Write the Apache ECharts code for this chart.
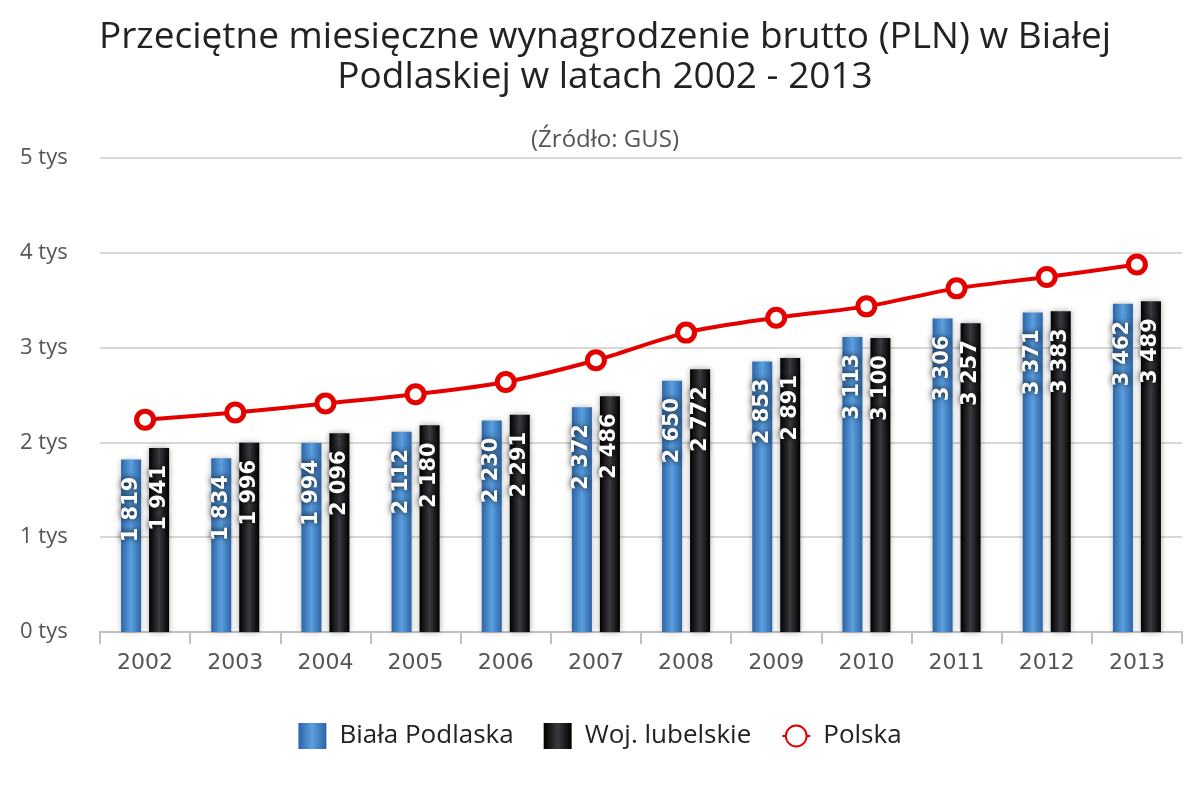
<!DOCTYPE html>
<html>
<head>
<meta charset="utf-8">
<script src="https://cdn.jsdelivr.net/npm/echarts@6/dist/echarts.min.js"></script>
<style>
html,body{margin:0;padding:0;background:#fff;}
#myChart{width:1200px;height:800px;}
</style>
</head>
<body>
<div id="myChart"></div>
<script>
var years = ['2002', '2003', '2004', '2005', '2006', '2007', '2008', '2009', '2010', '2011', '2012', '2013'];
var bialaPodlaska = [1819, 1834, 1994, 2112, 2230, 2372, 2650, 2853, 3113, 3306, 3371, 3462];
var lubelskie = [1941, 1996, 2096, 2180, 2291, 2486, 2772, 2891, 3100, 3257, 3383, 3489];
var polska = [2240, 2315, 2410, 2508, 2637, 2866, 3158, 3315, 3435, 3625, 3744, 3877];

var myChart = echarts.init(document.getElementById('myChart'));

function fmt(v) {
    var s = String(v);
    return s.length > 3 ? s.slice(0, s.length - 3) + ' ' + s.slice(-3) : s;
}

var barLabel = {
    show: true,
    position: 'insideTop',
    rotate: 90,
    align: 'right',
    verticalAlign: 'middle',
    distance: 17,
    color: '#fff',
    fontFamily: 'DejaVu Sans',
    fontWeight: 'bold',
    fontSize: 21,
    textShadowColor: 'rgba(0,0,0,0.9)',
    textShadowBlur: 6,
    formatter: function (p) { return fmt(p.value); }
};

var option = {
    backgroundColor: '#fff',
    title: [{
        text: 'Przeciętne miesięczne wynagrodzenie brutto (PLN) w Białej\nPodlaskiej w latach 2002 - 2013',
        left: 600,
        top: 12,
        textAlign: 'center',
        textStyle: {
            fontFamily: 'Open Sans',
            fontWeight: 'normal',
            fontSize: 37,
            lineHeight: 40,
            color: '#222'
        }
    }, {
        text: '(Źródło: GUS)',
        left: 600,
        top: 123,
        textAlign: 'center',
        textStyle: {
            fontFamily: 'Open Sans',
            fontWeight: 'normal',
            fontSize: 24,
            color: '#555'
        }
    }],
    legend: {
        bottom: 46,
        left: 'center',
        itemWidth: 28,
        itemHeight: 26,
        itemGap: 30,
        textStyle: {
            fontFamily: 'Open Sans',
            fontSize: 26,
            color: '#222',
            padding: [0, 0, 0, 8]
        },
        data: [
            {name: 'Biała Podlaska', icon: 'rect'},
            {name: 'Woj. lubelskie', icon: 'rect'},
            {name: 'Polska'}
        ]
    },
    grid: {
        left: 100,
        right: 18,
        top: 158,
        bottom: 168
    },
    xAxis: {
        type: 'category',
        data: years,
        axisLine: {lineStyle: {color: '#c0c0c0', width: 2}},
        axisTick: {show: true, length: 12, lineStyle: {color: '#c0c0c0', width: 2}},
        axisLabel: {
            fontFamily: 'DejaVu Sans',
            fontSize: 22,
            color: '#555',
            margin: 20
        }
    },
    yAxis: {
        type: 'value',
        min: 0,
        max: 5000,
        interval: 1000,
        axisLine: {show: false},
        axisTick: {show: false},
        splitLine: {lineStyle: {color: '#d8d8d8', width: 2}},
        axisLabel: {
            align: 'left',
            margin: 80,
            fontFamily: 'Open Sans',
            fontSize: 22,
            color: '#555',
            formatter: function (v) { return v / 1000 + ' tys'; }
        }
    },
    series: [
        {
            name: 'Biała Podlaska',
            type: 'bar',
            barWidth: 20,
            barGap: '40%',
            data: bialaPodlaska,
            itemStyle: {
                color: new echarts.graphic.LinearGradient(0, 0, 1, 0, [
                    {offset: 0, color: '#2d65a3'},
                    {offset: 0.5, color: '#5b9fe0'},
                    {offset: 1, color: '#2d65a3'}
                ]),
                shadowColor: 'rgba(0,0,0,0.25)',
                shadowBlur: 6
            },
            label: barLabel
        },
        {
            name: 'Woj. lubelskie',
            type: 'bar',
            barWidth: 20,
            data: lubelskie,
            itemStyle: {
                color: new echarts.graphic.LinearGradient(0, 0, 1, 0, [
                    {offset: 0, color: '#000'},
                    {offset: 0.5, color: '#3a3a40'},
                    {offset: 1, color: '#000'}
                ]),
                shadowColor: 'rgba(0,0,0,0.35)',
                shadowBlur: 6
            },
            label: barLabel
        },
        {
            name: 'Polska',
            type: 'line',
            smooth: 0.3,
            data: polska,
            symbol: 'circle',
            symbolSize: 17,
            color: '#e50000',
            lineStyle: {color: '#e50000', width: 4},
            itemStyle: {color: '#fff', borderColor: '#e50000', borderWidth: 5}
        }
    ]
};

myChart.setOption(option);
</script>
</body>
</html>
